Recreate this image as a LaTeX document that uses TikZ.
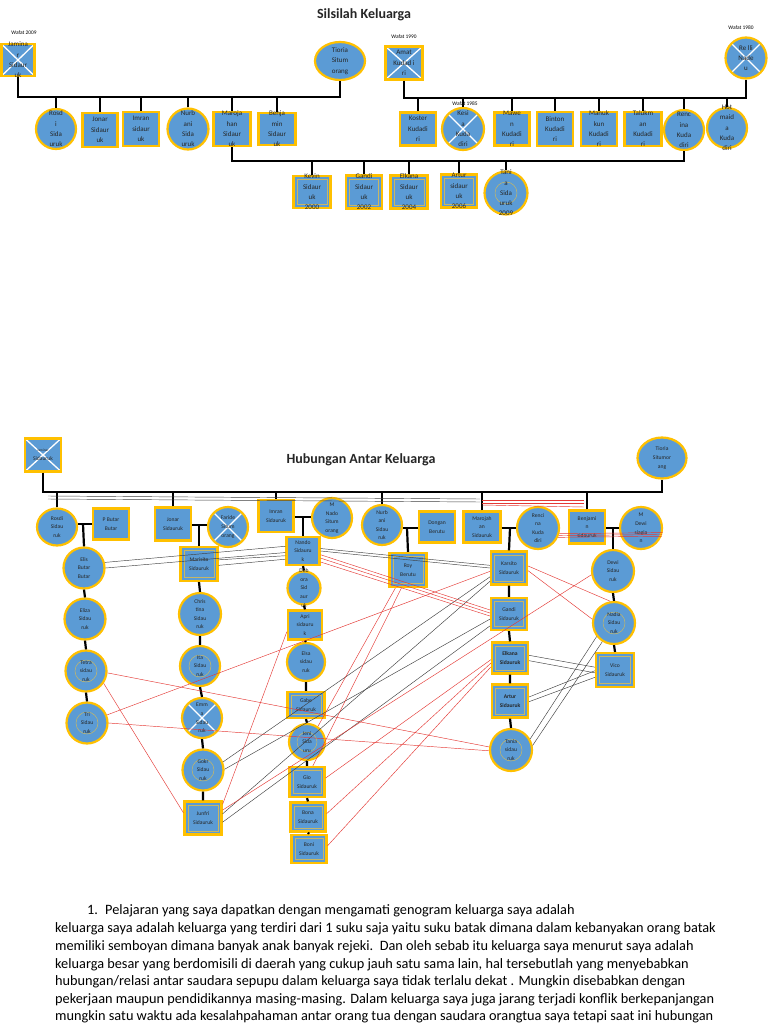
\documentclass[tikz,border=0pt]{standalone}
\usepackage{fontspec}
\setmainfont{Carlito}
\usetikzlibrary{shapes.geometric,calc}
\definecolor{nblue}{HTML}{5B9BD5}
\definecolor{ngold}{HTML}{FFC000}
\definecolor{ninner}{HTML}{C8B765}
\definecolor{rline}{HTML}{E53935}
\newcommand\fta{\fontsize{7}{10.3}\selectfont}
\newcommand\ftb{\fontsize{5.6}{8.6}\selectfont}
\begin{document}
\begin{tikzpicture}[x=1pt,y=-1pt,
  base/.style={fill=nblue,draw=ngold,line width=2.2pt,inner sep=0pt},
  pbox/.style={base,rectangle,minimum width=36pt,minimum height=33pt},
  pcirc/.style={base,circle,minimum size=40pt},
  pell/.style={base,ellipse,minimum width=50pt,minimum height=38pt},
  dbl/.style={path picture={\draw[ninner,line width=0.7pt] ([shift={(3.6pt,3.6pt)}]path picture bounding box.south west) rectangle ([shift={(-3.6pt,-3.6pt)}]path picture bounding box.north east);}},
  dcl/.style={path picture={\draw[ninner,line width=0.5pt] (path picture bounding box.center) circle (#1);}},
  dcl/.default=12pt,
  crs/.style={path picture={\draw[white,line width=1.3pt] (path picture bounding box.south west) -- (path picture bounding box.north east) (path picture bounding box.north west) -- (path picture bounding box.south east);}},
  lt/.style={font=\fta,align=center,inner sep=0pt,text=black!85},
  lm/.style={font=\ftb,align=center,inner sep=0pt,text=black!85},
  tl/.style={line width=2.2pt,black},
  gl/.style={line width=0.45pt,black!75},
  rl/.style={line width=0.45pt,rline},
  wf/.style={font=\fontsize{5.4}{6}\selectfont,inner sep=0pt},
  ttl/.style={font=\bfseries\fontsize{14}{16}\selectfont,inner sep=0pt,text=black!85},
  ptxt/.style={font=\fontsize{14.3}{17}\selectfont,inner sep=0pt,anchor=base west},
]
\useasboundingbox (0,0) rectangle (768,1024);
\fill[white] (0,0) rectangle (768,1024);

% ================= Silsilah Keluarga =================
\node[ttl] (t1) at (364,15) {Silsilah Keluarga};
\node[wf] (w1) at (24,33) {Wafat 2009};
\node[pbox,crs,minimum width=33pt,minimum height=32pt,label={[lt]center:{Jamina\\r\\Sidaur\\uk}}] (jam) at (18,60) {};
\node[pell,label={[lt]center:{Tioria\\Situm\\orang}}] (tio) at (340,61) {};
\node[wf] (w2) at (404,37) {Wafat 1990};
\node[pbox,crs,minimum width=37pt,minimum height=33pt,label={[lt]center:{Amat\\Kudad i\\ri}}] (amat) at (404,63) {};
\node[wf] (w3) at (741,28) {Wafat 1980};
\node[pcirc,crs,minimum size=41pt,label={[lt]center:{Re lli\\Nade\\u}}] (relli) at (746,58) {};

\node[pcirc,label={[lt]center:{Rosd\\i\\Sida\\uruk}}] (rosdi) at (56,129) {};
\node[pbox,minimum width=35pt,minimum height=34pt,label={[lt]center:{Jonar\\Sidaur\\uk}}] (jonar) at (100,130) {};
\node[pbox,minimum height=34pt,label={[lt]center:{Imran\\sidaur\\uk}}] (imran) at (141,129) {};
\node[pcirc,minimum size=41pt,label={[lt]center:{Nurb\\ani\\Sida\\uruk}}] (nurb) at (188,129) {};
\node[pbox,minimum width=37pt,minimum height=34pt,label={[lt]center:{Maroja\\han\\Sidaur\\uk}}] (maro) at (232,129) {};
\node[pbox,minimum width=37pt,minimum height=32pt,label={[lt]center:{Benja\\min\\Sidaur\\uk}}] (benja) at (277,129) {};

\node[pbox,label={[lt]center:{Koster\\Kudadi\\ri}}] (koster) at (418,129) {};
\node[wf] (w4) at (465,104) {Wafat 1985};
\node[pcirc,crs,minimum size=42pt,label={[lt]center:{Kesi\\a\\Kuda\\diri}}] (kesia) at (463,129) {};
\node[pbox,minimum width=35pt,label={[lt]center:{Mawe\\n\\Kudadi\\ri}}] (mawen) at (512,129) {};
\node[pbox,minimum height=34pt,label={[lt]center:{Binton\\Kudadi\\ri}}] (binton) at (555,129) {};
\node[pbox,minimum height=34pt,label={[lt]center:{Manuk\\kun\\Kudadi\\ri}}] (manuk) at (599,129) {};
\node[pbox,minimum width=37pt,minimum height=34pt,label={[lt]center:{Talukm\\an\\Kudadi\\ri}}] (taluk) at (643,129) {};
\node[pcirc,label={[lt]center:{Renc\\ina\\Kuda\\diri}}] (renc) at (684,130) {};
\node[pcirc,label={[lt]center:{Hot\\maid\\a\\Kuda\\diri}}] (hot) at (727,128) {};

\node[pbox,dbl,minimum width=37pt,minimum height=32pt,label={[lt]center:{Kevin\\Sidaur\\uk\\2000}}] (kevin) at (312,192) {};
\node[pbox,dbl,label={[lt]center:{Gandi\\Sidaur\\uk\\2002}}] (gandi) at (364,192) {};
\node[pbox,dbl,minimum width=37pt,label={[lt]center:{Elkana\\Sidaur\\uk\\2004}}] (elkana) at (409,192) {};
\node[pbox,dbl,label={[lt]center:{Artur\\sidaur\\uk\\2006}}] (artur) at (459,191) {};
\node[pcirc,dcl=11pt,minimum size=43pt,label={[lt]center:{Tani\\a\\Sida\\uruk\\2009}}] (tania) at (506,193) {};

\coordinate (b1) at (0,97);
\draw[tl] (jam.south) -- (jam.south |- b1) -- (tio.south |- b1) -- (tio.south);
\foreach \n in {rosdi,jonar,imran,nurb,maro,benja} \draw[tl] (\n.north) -- (\n.north |- b1);
\coordinate (b2) at (0,98);
\draw[tl] (amat.south) -- (amat.south |- b2) -- (relli.south |- b2) -- (relli.south);
\foreach \n in {koster,kesia,mawen,binton,manuk,taluk,renc,hot} \draw[tl] (\n.north) -- (\n.north |- b2);
\coordinate (b3) at (0,161);
\draw[tl] (maro.south) -- (maro.south |- b3) -- (renc.south |- b3) -- (renc.south);
\foreach \n in {kevin,gandi,elkana,artur,tania} \draw[tl] (\n.north) -- (\n.north |- b3);

% ================= Hubungan Antar Keluarga =================
\node[ttl] (t2) at (361,460) {Hubungan Antar Keluarga};
\node[pbox,crs,minimum width=36pt,minimum height=33pt,label={[lm]center:{\fontsize{3.5}{4.5}\selectfont Jaminar\\Sidauruk}}] (jam2) at (43,455) {};
\node[pell,minimum width=49pt,minimum height=41pt,label={[lm]center:{Tioria\\Situmor\\ang}}] (tio2) at (662,458) {};

\node[pell,minimum width=40pt,minimum height=37pt,label={[lm]center:{Rosdi\\Sidau\\ruk}}] (rosdi2) at (57,527) {};
\node[pbox,minimum height=31pt,label={[lm]center:{P Butar\\Butar}}] (pbutar) at (111,524) {};
\node[pbox,label={[lm]center:{Jonar\\Sidauruk}}] (jonar2) at (173,524) {};
\node[pcirc,crs,label={[lm]center:{Faride\\Situm\\orang}}] (faride) at (228,527) {};
\node[pbox,minimum width=35pt,minimum height=32pt,label={[lm]center:{Imran\\Sidauruk}}] (imran2) at (276,516) {};
\node[pcirc,label={[lm]center:{M\\Nado\\Situm\\orang}}] (mnado) at (332,518) {};
\node[pcirc,label={[lm]center:{Nurb\\ani\\Sidau\\ruk}}] (nurb2) at (382,525) {};
\node[pbox,minimum height=31pt,label={[lm]center:{Dongan\\Berutu}}] (dongan) at (437,527) {};
\node[pbox,minimum width=37pt,minimum height=31pt,label={[lm]center:{Marojah\\an\\Sidauruk}}] (maro2) at (482,527) {};
\node[pcirc,minimum size=42pt,label={[lm]center:{Renci\\na\\Kuda\\diri}}] (renc2) at (538,528) {};
\node[pbox,label={[lm]center:{Benjami\\n\\sidauruk}}] (benj2) at (587,527) {};
\node[pcirc,minimum size=42pt,label={[lm]center:{M\\Dewi\\siagia\\n}}] (mdewi) at (641,528) {};

% column A
\node[pcirc,minimum size=41pt,label={[lm]center:{Elis\\Butar\\Butar}}] (elis) at (84,568) {};
\node[pcirc,minimum size=41pt,label={[lm]center:{Eliza\\Sidau\\ruk}}] (eliza) at (85,619) {};
\node[pcirc,dcl=11pt,minimum size=41pt,label={[lm]center:{Tetra\\sidau\\ruk}}] (tetra) at (86,671) {};
\node[pcirc,dcl=11pt,minimum size=41pt,label={[lm]center:{Tri\\Sidau\\ruk}}] (tri) at (87,723) {};
% column B
\node[pbox,dbl,minimum width=37pt,minimum height=34pt,label={[lm]center:{Marisita\\Sidauruk}}] (maris) at (199,564) {};
\node[pcirc,minimum size=42pt,label={[lm]center:{Chris\\tina\\Sidau\\ruk}}] (chris) at (200,614) {};
\node[pcirc,dcl=11pt,label={[lm]center:{Ita\\Sidau\\ruk}}] (ita) at (200,666) {};
\node[pcirc,crs,label={[lm]center:{Emm\\a\\Sidau\\ruk}}] (emma) at (202,718) {};
\node[pcirc,dcl=11pt,minimum size=41pt,label={[lm]center:{Gokr\\Sidau\\ruk}}] (gokr) at (203,770) {};
\node[pbox,dbl,minimum width=37pt,label={[lm]center:{Junfri\\Sidauruk}}] (junfri) at (203,818) {};
% column C
\node[pbox,minimum width=33pt,minimum height=28pt,label={[lm]center:{Nando\\Sidauru\\k}}] (nando) at (303,551) {};
\node[pcirc,minimum size=33pt,label={[lm]center:{Deb\\ora\\Sid\\aur\\uk}}] (debora) at (304,588) {};
\node[pbox,minimum width=34pt,minimum height=29pt,label={[lm]center:{Apri\\sidauru\\k}}] (apri) at (305,625) {};
\node[pcirc,minimum size=38pt,label={[lm]center:{Elsa\\sidau\\ruk}}] (elsa) at (306,662) {};
\node[pbox,dbl,minimum width=37pt,minimum height=26pt,label={[lm]center:{Gabe\\Sidauruk}}] (gabe) at (306,705) {};
\node[pcirc,dcl=10pt,minimum size=36pt,label={[lm]center:{Jeni\\Sida\\uru}}] (jeni) at (307,742) {};
\node[pbox,dbl,minimum width=35pt,minimum height=30pt,label={[lm]center:{Gio\\Sidauruk}}] (gio) at (307,782) {};
\node[pbox,dbl,minimum width=35pt,minimum height=29pt,label={[lm]center:{Bona\\Sidauruk}}] (bona) at (308,817) {};
\node[pbox,dbl,minimum width=35pt,minimum height=28pt,label={[lm]center:{Boni\\Sidauruk}}] (boni) at (309,849) {};
% column D
\node[pbox,dbl,minimum width=37pt,minimum height=34pt,label={[lm]center:{Roy\\Berutu}}] (roy) at (408,570) {};
% column E
\node[pbox,dbl,label={[lm]center:{Karsito\\Sidauruk}}] (kars) at (509,568) {};
\node[pbox,dbl,minimum height=32pt,label={[lm]center:{Gandi\\Sidauruk}}] (gandi2) at (509,614) {};
\node[pbox,dbl,minimum height=31pt,label={[lm]center:{\bfseries Elkana\\\bfseries Sidauruk}}] (elkana2) at (510,658) {};
\node[pbox,dbl,label={[lm]center:{\bfseries Artur\\\bfseries Sidauruk}}] (artur2) at (510,701) {};
\node[pcirc,dcl=11pt,minimum size=42pt,label={[lm]center:{Tania\\sidau\\ruk}}] (tania2) at (511,750) {};
% column F
\node[pcirc,minimum size=42pt,label={[lm]center:{Dewi\\Sidau\\ruk}}] (dewi) at (613,571) {};
\node[pcirc,dcl=11pt,minimum size=42pt,label={[lm]center:{Nadia\\Sidau\\ruk}}] (nadia) at (614,623) {};
\node[pbox,dbl,minimum width=38pt,minimum height=34pt,label={[lm]center:{Vico\\Sidauruk}}] (vico) at (615,670) {};

% family lines
\coordinate (b4) at (0,492);
\draw[tl] (jam2.south) -- (jam2.south |- b4) -- (tio2.south |- b4) -- (tio2.south);
\foreach \n/\x in {rosdi2/57,jonar2/173,imran2/276,nurb2/382,maro2/482,benj2/587} \draw[tl] (\n.north -| \x,0) -- (\x,492);
\coordinate (m1) at (83,524);
\draw[tl] (rosdi2.east |- m1) -- (pbutar.west |- m1);
\draw[tl] (m1) -- (elis.north);
\coordinate (m2) at (199,525);
\draw[tl] (jonar2.east |- m2) -- (faride.west |- m2);
\draw[tl] (m2) -- (maris.north);
\coordinate (m3) at (303,517);
\draw[tl] (imran2.east |- m3) -- (mnado.west |- m3);
\draw[tl] (m3) -- (nando.north);
\coordinate (m4) at (407,528);
\draw[tl] (nurb2.east |- m4) -- (dongan.west |- m4);
\draw[tl] (m4) -- (roy.north);
\coordinate (m5) at (510,528);
\draw[tl] (maro2.east |- m5) -- (renc2.west |- m5);
\draw[tl] (m5) -- (kars.north);
\coordinate (m6) at (613,528);
\draw[tl] (benj2.east |- m6) -- (mdewi.west |- m6);
\draw[tl] (m6) -- (dewi.north);
\draw[tl] (elis.south) -- (eliza.north) (eliza.south) -- (tetra.north) (tetra.south) -- (tri.north);
\draw[tl] (maris.south) -- (chris.north) (chris.south) -- (ita.north) (ita.south) -- (emma.north) (emma.south) -- (gokr.north) (gokr.south) -- (junfri.north);
\draw[tl] (nando.south) -- (debora.north) (debora.south) -- (apri.north) (apri.south) -- (elsa.north) (elsa.south) -- (gabe.north) (gabe.south) -- (jeni.north) (jeni.south) -- (gio.north) (gio.south) -- (bona.north) (bona.south) -- (boni.north);
\draw[tl] (kars.south) -- (gandi2.north) (gandi2.south) -- (elkana2.north) (elkana2.south) -- (artur2.north) (artur2.south) -- (tania2.north);
\draw[tl] (dewi.south) -- (nadia.north) (nadia.south) -- (vico.north);

% relation lines (grey / black)
\coordinate (ga1) at (48,496);
\coordinate (ga2) at (480,499);
\coordinate (gb1) at (48,499);
\coordinate (gb2) at (480,502);
\draw[gl] (ga1) -- (ga2);
\draw[gl] (gb1) -- (gb2);
\draw[gl] (elis.15) -- (nando.165);
\draw[gl] (elis.0) -- (nando.185);
\draw[gl] (maris.12) -- (nando.195);
\draw[gl] (maris.-4) -- (nando.205);
\draw[gl] (nando.8) -- (kars.172);
\draw[gl] (nando.0) -- (kars.180);
\draw[gl] (gokr.22) -- (kars.205);
\draw[gl] (gokr.2) -- (gandi2.195);
\draw[gl] (junfri.12) -- (kars.215);
\draw[gl] (junfri.-12) -- (gandi2.212);
\draw[gl] (tania2.30) -- (nadia.218);
\draw[gl] (tania2.12) -- (nadia.238);
\draw[gl] (elkana2.8) -- (vico.172);
\draw[gl] (elkana2.-8) -- (vico.188);
\draw[gl] (artur2.12) -- (vico.182);
\draw[gl] (artur2.-2) -- (vico.200);

% relation lines (red)
\coordinate (ra1) at (482,500);
\coordinate (ra2) at (584,500);
\coordinate (rb1) at (482,503);
\coordinate (rb2) at (584,503);
\coordinate (rc1) at (482,505);
\coordinate (rc2) at (584,507);
\draw[rl] (ra1) -- (ra2);
\draw[rl] (rb1) -- (rb2);
\draw[rl] (rc1) -- (rc2);
\draw[rl] (renc2.-15) -- (mdewi.-12);
\draw[rl] (renc2.-20) -- (mdewi.-17);
\draw[rl] (renc2.-25) -- (mdewi.-22);
\draw[rl] (nando.-12) -- (gandi2.168);
\draw[rl] (nando.-22) -- (gandi2.177);
\draw[rl] (nando.-32) -- (gandi2.186);
\draw[rl] (kars.6) -- (nadia.100);
\draw[rl] (kars.-8) -- (nadia.170);
\draw[rl] (tri.22) -- (kars.190);
\draw[rl] (tetra.-5) -- (tania2.172);
\draw[rl] (tri.0) -- (tania2.182);
\draw[rl] (tetra.-35) -- (junfri.165);
\draw[rl] (apri.200) -- (junfri.35);
\draw[rl] (dewi.190) -- (junfri.22);
\draw[rl] (gio.12) -- (elkana2.185);
\draw[rl] (bona.10) -- (elkana2.195);
\draw[rl] (boni.10) -- (elkana2.205);
\draw[rl] (jeni.55) -- (roy.235);
\draw[rl] (gio.70) -- (roy.250);

% ================= text =================
\node[ptxt] (p0) at (87,914) {1.};
\node[ptxt] (p1) at (105,914) {Pelajaran yang saya dapatkan dengan mengamati genogram keluarga saya adalah};
\node[ptxt] (p2) at (55,932) {keluarga saya adalah keluarga yang terdiri dari 1 suku saja yaitu suku batak dimana dalam kebanyakan orang batak};
\node[ptxt] (p3) at (55,950) {memiliki semboyan dimana banyak anak banyak rejeki.\ \ Dan oleh sebab itu keluarga saya menurut saya adalah};
\node[ptxt] (p4) at (55,968) {keluarga besar yang berdomisili di daerah yang cukup jauh satu sama lain, hal tersebutlah yang menyebabkan};
\node[ptxt] (p5) at (55,985) {hubungan/relasi antar saudara sepupu dalam keluarga saya tidak terlalu dekat . Mungkin disebabkan dengan};
\node[ptxt] (p6) at (55,1003) {pekerjaan maupun pendidikannya masing-masing. Dalam keluarga saya juga jarang terjadi konflik berkepanjangan};
\node[ptxt] (p7) at (55,1020) {mungkin satu waktu ada kesalahpahaman antar orang tua dengan saudara orangtua saya tetapi saat ini hubungan};
\end{tikzpicture}
\end{document}
